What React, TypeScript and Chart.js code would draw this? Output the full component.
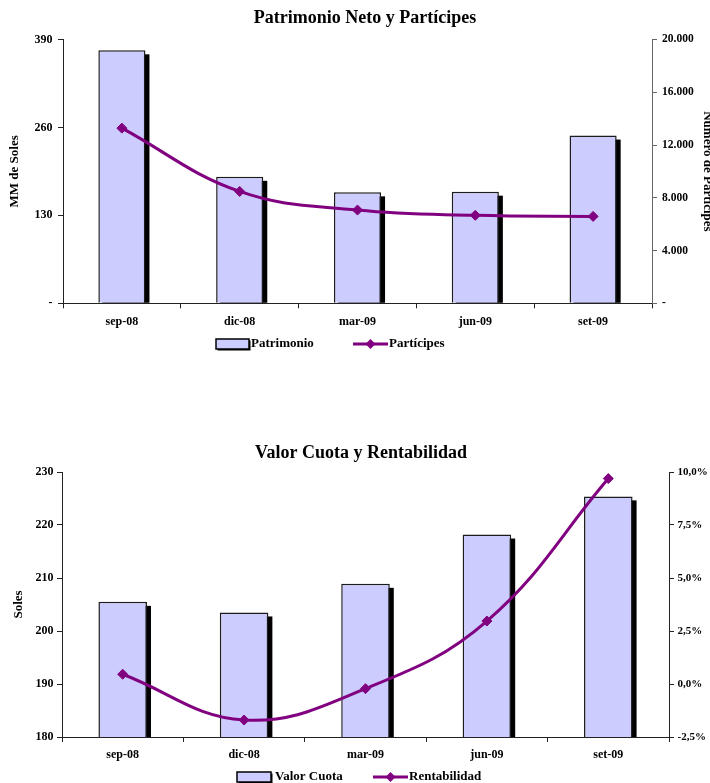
import React, { useEffect, useRef } from 'react';
import { Chart, registerables } from 'chart.js';

Chart.register(...registerables);

const FONT = '"Liberation Serif", "Times New Roman", serif';
Chart.defaults.font.family = FONT;
Chart.defaults.color = '#000';

// ---- data ----
const categories = ['sep-08', 'dic-08', 'mar-09', 'jun-09', 'set-09'];
const patrimonio = [374, 187, 164, 165, 248];
const participes = [13280, 8480, 7070, 6670, 6590];
const valorCuota = [205.5, 203.5, 208.9, 218.2, 225.4];
const rentabilidad = [0.46, -1.7, -0.22, 2.97, 9.69];

const patrimonioTicks = ['-', '130', '260', '390'];
const participesTicks = ['-', '4.000', '8.000', '12.000', '16.000', '20.000'];
const cuotaTicks = ['180', '190', '200', '210', '220', '230'];
const rentTicks = ['-2,5%', '0,0%', '2,5%', '5,0%', '7,5%', '10,0%'];

const BAR_FILL = '#ccccff';
const BAR_BORDER = '#1c1c1c';
const LINE_COLOR = '#800080';

const tickFromList = (list: string[], min: number, step: number) => (value: any) => {
  const i = Math.round((Number(value) - min) / step);
  return list[i] ?? '';
};

const barShadow = {
  id: 'barShadow',
  beforeDatasetDraw(chart: any, args: any) {
    if (args.meta.type !== 'bar') return;
    const { ctx, chartArea } = chart;
    ctx.save();
    ctx.beginPath();
    ctx.rect(chartArea.left, chartArea.top, chartArea.right - chartArea.left, chartArea.bottom - chartArea.top);
    ctx.clip();
    ctx.fillStyle = '#000';
    args.meta.data.forEach((el: any) => {
      const { x, y, base, width } = el.getProps(['x', 'y', 'base', 'width'], true);
      ctx.fillRect(x - width / 2 + 4, y + 4, width, base - y - 4);
    });
    ctx.restore();
  },
};

const customLegend = {
  id: 'customLegend',
  afterDraw(chart: any, _args: any, opts: any) {
    const { ctx } = chart;
    const y = opts.y;
    ctx.save();
    ctx.font = `bold 13px ${FONT}`;
    ctx.textBaseline = 'middle';
    ctx.textAlign = 'left';
    opts.items.forEach((item: any) => {
      const ds = chart.data.datasets[item.dataset];
      if (item.kind === 'bar') {
        const w = item.w, h = 10;
        ctx.fillStyle = '#000';
        ctx.fillRect(item.x + 1.5, y - h / 2 + 1.5, w, h);
        ctx.fillStyle = ds.backgroundColor;
        ctx.fillRect(item.x, y - h / 2, w, h);
        ctx.strokeStyle = '#000';
        ctx.lineWidth = 1.5;
        ctx.strokeRect(item.x, y - h / 2, w, h);
      } else {
        ctx.strokeStyle = ds.borderColor;
        ctx.lineWidth = 3;
        ctx.beginPath();
        ctx.moveTo(item.x, y);
        ctx.lineTo(item.x + item.w, y);
        ctx.stroke();
        const cx = item.x + item.w / 2;
        const r = 5;
        ctx.fillStyle = ds.borderColor;
        ctx.beginPath();
        ctx.moveTo(cx, y - r);
        ctx.lineTo(cx + r, y);
        ctx.lineTo(cx, y + r);
        ctx.lineTo(cx - r, y);
        ctx.closePath();
        ctx.fill();
      }
      ctx.fillStyle = '#000';
      ctx.fillText(ds.label, item.textX, y);
    });
    ctx.restore();
  },
};

const axisGrid = (color: string) => ({ drawOnChartArea: false, tickLength: 5, color, tickColor: color });

function makeTopConfig(): any {
  return {
    type: 'bar',
    data: {
      labels: categories,
      datasets: [
        {
          type: 'bar',
          label: 'Patrimonio',
          data: patrimonio,
          yAxisID: 'y',
          backgroundColor: BAR_FILL,
          borderColor: BAR_BORDER,
          borderWidth: 1.5,
          barPercentage: 0.4,
          categoryPercentage: 1,
          order: 2,
        },
        {
          type: 'line',
          label: 'Partícipes',
          data: participes,
          yAxisID: 'y1',
          borderColor: LINE_COLOR,
          backgroundColor: LINE_COLOR,
          borderWidth: 3,
          pointStyle: 'rectRot',
          pointRadius: 5,
          pointBorderWidth: 1,
          tension: 0.4,
          order: 1,
        },
      ],
    },
    options: {
      responsive: false,
      animation: false,
      layout: { padding: { top: 0, left: 0, right: 0, bottom: 36.7 } },
      plugins: {
        legend: { display: false },
        tooltip: { enabled: false },
        title: {
          display: true,
          text: 'Patrimonio Neto y Partícipes',
          color: '#000',
          font: { size: 18, weight: 'bold' },
          padding: { top: 7.2, bottom: 10.7 },
        },
        customLegend: {
          y: 344,
          items: [
            { dataset: 0, kind: 'bar', x: 216, w: 33, textX: 251 },
            { dataset: 1, kind: 'line', x: 353, w: 35, textX: 389 },
          ],
        },
      },
      scales: {
        x: {
          grid: { ...axisGrid('#222'), offset: true },
          border: { color: '#222' },
          ticks: { font: { size: 12, weight: 'bold' }, padding: 6, color: '#000' },
          afterFit: (s: any) => { s.height = 30; },
        },
        y: {
          position: 'left',
          min: 0,
          max: 390,
          ticks: { stepSize: 130, padding: 5.5, font: { size: 12, weight: 'bold' }, color: '#000', callback: tickFromList(patrimonioTicks, 0, 130) },
          grid: axisGrid('#222'),
          border: { color: '#222' },
          title: { display: true, text: 'MM de Soles', color: '#000', font: { size: 13, weight: 'bold' }, padding: { top: 7.2, bottom: 0 } },
          afterFit: (s: any) => { s.width = 63; },
        },
        y1: {
          position: 'right',
          min: 0,
          max: 20000,
          ticks: { stepSize: 4000, padding: 5, font: { size: 11.5, weight: 'bold' }, color: '#000', callback: tickFromList(participesTicks, 0, 4000) },
          grid: axisGrid('#666'),
          border: { color: '#666' },
          title: { display: true, text: 'Número de Partícipes', color: '#000', font: { size: 13, weight: 'bold' }, padding: { top: 14.5, bottom: 0 } },
          afterFit: (s: any) => { s.width = 78; },
        },
      },
    },
    plugins: [barShadow, customLegend],
  };
}

function makeBottomConfig(): any {
  return {
    type: 'bar',
    data: {
      labels: categories,
      datasets: [
        {
          type: 'bar',
          label: 'Valor Cuota',
          data: valorCuota,
          yAxisID: 'y',
          backgroundColor: BAR_FILL,
          borderColor: BAR_BORDER,
          borderWidth: 1.5,
          barPercentage: 0.4,
          categoryPercentage: 1,
          order: 2,
        },
        {
          type: 'line',
          label: 'Rentabilidad',
          data: rentabilidad,
          yAxisID: 'y1',
          borderColor: LINE_COLOR,
          backgroundColor: LINE_COLOR,
          borderWidth: 3,
          pointStyle: 'rectRot',
          pointRadius: 5,
          pointBorderWidth: 1,
          tension: 0.4,
          order: 1,
        },
      ],
    },
    options: {
      responsive: false,
      animation: false,
      layout: { padding: { top: 0, left: 0, right: 0, bottom: 23 } },
      plugins: {
        legend: { display: false },
        tooltip: { enabled: false },
        title: {
          display: true,
          text: 'Valor Cuota y Rentabilidad',
          color: '#000',
          font: { size: 18, weight: 'bold' },
          padding: { top: 22.2, bottom: 8.2 },
        },
        customLegend: {
          y: 357,
          items: [
            { dataset: 0, kind: 'bar', x: 237, w: 34, textX: 275 },
            { dataset: 1, kind: 'line', x: 373, w: 35, textX: 409 },
          ],
        },
      },
      scales: {
        x: {
          grid: { ...axisGrid('#222'), offset: true },
          border: { color: '#222' },
          ticks: { font: { size: 12, weight: 'bold' }, padding: 6, color: '#000' },
          afterFit: (s: any) => { s.height = 30; },
        },
        y: {
          position: 'left',
          min: 180,
          max: 230,
          ticks: { stepSize: 10, padding: 3.6, font: { size: 12, weight: 'bold' }, color: '#000', callback: tickFromList(cuotaTicks, 180, 10) },
          grid: axisGrid('#222'),
          border: { color: '#222' },
          title: { display: true, text: 'Soles', color: '#000', font: { size: 13, weight: 'bold' }, padding: { top: 11.2, bottom: 0 } },
          afterFit: (s: any) => { s.width = 62; },
        },
        y1: {
          position: 'right',
          min: -2.5,
          max: 10,
          ticks: { stepSize: 2.5, padding: 3.5, font: { size: 11, weight: 'bold' }, color: '#000', callback: tickFromList(rentTicks, -2.5, 2.5) },
          grid: axisGrid('#222'),
          border: { color: '#222' },
          afterFit: (s: any) => { s.width = 53; },
        },
      },
    },
    plugins: [barShadow, customLegend],
  };
}

function ChartCanvas({ makeConfig, width, height, top }: { makeConfig: () => any; width: number; height: number; top: number }) {
  const ref = useRef<HTMLCanvasElement | null>(null);
  useEffect(() => {
    if (!ref.current) return;
    const chart = new Chart(ref.current, makeConfig());
    return () => chart.destroy();
  }, [makeConfig]);
  return (
    <canvas
      ref={ref}
      width={width}
      height={height}
      style={{ position: 'absolute', left: 0, top, width, height, display: 'block' }}
    />
  );
}

export default function App() {
  return (
    <div style={{ position: 'absolute', left: 0, top: 0, width: 710, height: 783, overflow: 'hidden', background: '#fff' }}>
      <ChartCanvas makeConfig={makeTopConfig} width={730} height={370} top={0} />
      <ChartCanvas makeConfig={makeBottomConfig} width={722} height={370} top={420} />
    </div>
  );
}
